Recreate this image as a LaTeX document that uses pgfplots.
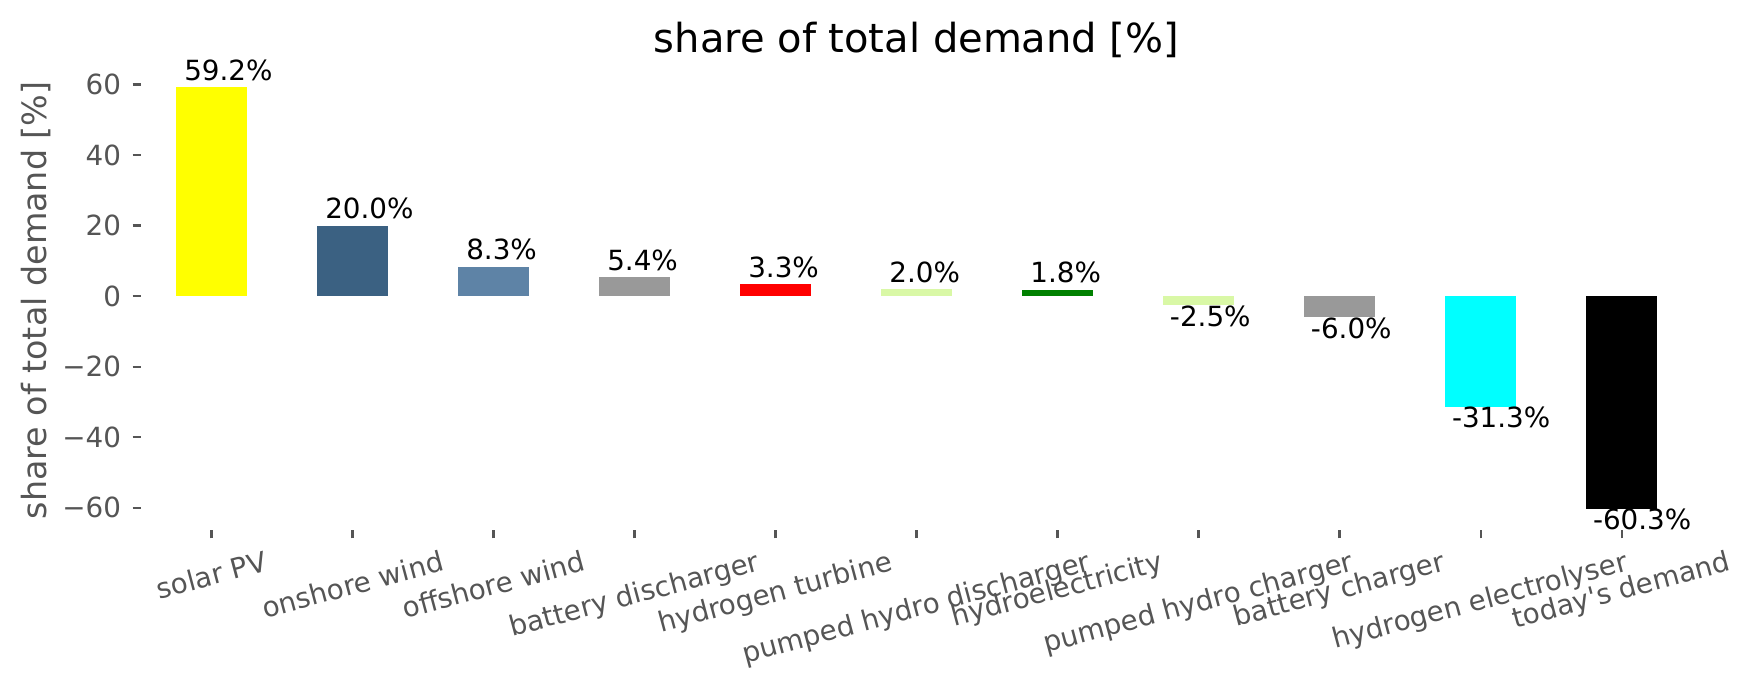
\documentclass[border=0pt]{standalone}
\usepackage{pgfplots}
\pgfplotsset{compat=1.18}
\usepackage{graphicx}
\usepackage{fontspec}
\setmainfont{DejaVu Sans}
\definecolor{solar}{HTML}{FFFF00}
\definecolor{onwind}{HTML}{3B6182}
\definecolor{offwind}{HTML}{5E83A6}
\definecolor{phs}{HTML}{D9F8A6}
\definecolor{batt}{HTML}{999999}
\definecolor{hturb}{HTML}{FF0000}
\definecolor{hydro}{HTML}{008000}
\definecolor{elec}{HTML}{00FFFF}
\definecolor{demand}{HTML}{000000}
\definecolor{tickgray}{HTML}{555555}
\newcommand{\R}[1]{\rotatebox{15}{#1}}
\begin{document}
\begin{tikzpicture}
\begin{axis}[
  scale only axis,
  width=558.4pt, height=167pt,
  xmin=-0.5, xmax=10.5,
  ymin=-66.3, ymax=65.2,
  axis line style={draw=none},
  tick align=outside,
  major tick length=3pt,
  every tick/.style={tickgray, line width=0.8pt},
  xtick pos=lower, ytick pos=left,
  xtick={0,1,2,3,4,5,6,7,8,9,10},
  xticklabels={\R{solar PV},\R{onshore wind},\R{offshore wind},\R{battery discharger},\R{hydrogen turbine},\R{pumped hydro discharger},\R{hydroelectricity},\R{pumped hydro charger},\R{battery charger},\R{hydrogen electrolyser},\R{today\textquotesingle s demand}},
  ytick={-60,-40,-20,0,20,40,60},
  yticklabels={−60,−40,−20,0,20,40,60},
  tick label style={font=\fontsize{10pt}{12pt}\selectfont, text=tickgray},
  xticklabel style={anchor=north, inner sep=0pt, yshift=-4pt},
  yticklabel style={anchor=east, inner sep=0pt, xshift=-4pt},
  ylabel={share of total demand [\%]},
  every axis y label/.style={at={(axis description cs:-0.0677,0.495)}, anchor=center, rotate=90, font=\fontsize{12pt}{14pt}\selectfont, text=tickgray},
  title={share of total demand [\%]},
  every axis title/.style={at={(axis description cs:0.5,1)}, anchor=center, yshift=9.5pt, font=\fontsize{14.4pt}{17pt}\selectfont},
  ybar, bar width=0.5, bar shift=0pt,
  nodes near coords style={font=\fontsize{10pt}{12pt}\selectfont, text=black, inner sep=0pt},
]
\pgfplotsset{
  posl/.style={every node near coord/.append style={anchor=base west, xshift=-10pt, yshift=2.5pt}},
  negl/.style={every node near coord/.append style={anchor=base west, xshift=-10.5pt, yshift=-7.6pt}},
}
\addplot[draw=none, fill=solar, posl, nodes near coords={59.2\%}] coordinates {(0,59.2)};
\addplot[draw=none, fill=onwind, posl, nodes near coords={20.0\%}] coordinates {(1,20.0)};
\addplot[draw=none, fill=offwind, posl, nodes near coords={8.3\%}] coordinates {(2,8.3)};
\addplot[draw=none, fill=batt, posl, nodes near coords={5.4\%}] coordinates {(3,5.4)};
\addplot[draw=none, fill=hturb, posl, nodes near coords={3.3\%}] coordinates {(4,3.3)};
\addplot[draw=none, fill=phs, posl, nodes near coords={2.0\%}] coordinates {(5,2.0)};
\addplot[draw=none, fill=hydro, posl, nodes near coords={1.8\%}] coordinates {(6,1.8)};
\addplot[draw=none, fill=phs, negl, nodes near coords={-2.5\%}] coordinates {(7,-2.5)};
\addplot[draw=none, fill=batt, negl, nodes near coords={-6.0\%}] coordinates {(8,-6.0)};
\addplot[draw=none, fill=elec, negl, nodes near coords={-31.3\%}] coordinates {(9,-31.3)};
\addplot[draw=none, fill=demand, negl, nodes near coords={-60.3\%}] coordinates {(10,-60.3)};
\end{axis}
\pgfresetboundingbox
\path (-50.76pt,-57.24pt) rectangle (580.32pt,190.8pt);
\end{tikzpicture}
\end{document}
